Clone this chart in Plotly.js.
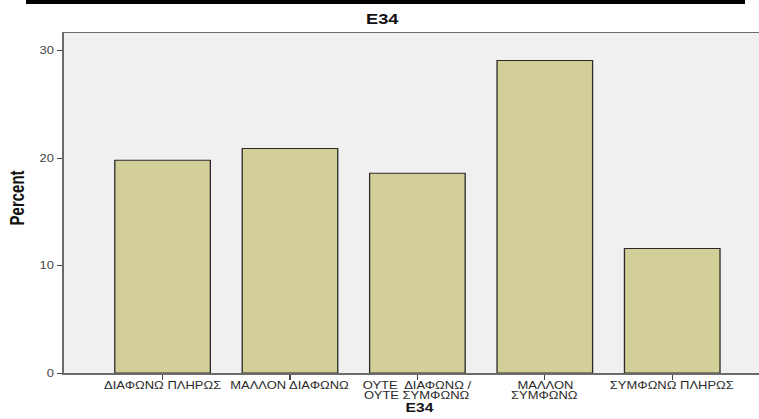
<!DOCTYPE html>
<html>
<head>
<meta charset="utf-8">
<script src="https://cdn.plot.ly/plotly-3.0.1.min.js"></script>
<style>
  html, body { margin: 0; padding: 0; background: #ffffff; }
  body { width: 759px; height: 419px; overflow: hidden; position: relative; }
  #wrap { position: absolute; left: 0; top: 0; transform: scaleX(1.3); transform-origin: 0 0; }
  #topbar { position: absolute; left: 26px; top: 0; width: 719px; height: 4px; background: #000; z-index: 5; }
</style>
</head>
<body>
<div id="topbar"></div>
<div id="wrap"><div id="chart"></div></div>
<script>
// ---- data ----
var categories = ['ΔΙΑΦΩΝΩ ΠΛΗΡΩΣ', 'ΜΑΛΛΟΝ ΔΙΑΦΩΝΩ', 'ΟΥΤΕ ΔΙΑΦΩΝΩ / ΟΥΤΕ ΣΥΜΦΩΝΩ', 'ΜΑΛΛΟΝ ΣΥΜΦΩΝΩ', 'ΣΥΜΦΩΝΩ ΠΛΗΡΩΣ'];
var tickLines = [['ΔΙΑΦΩΝΩ ΠΛΗΡΩΣ'], ['ΜΑΛΛΟΝ ΔΙΑΦΩΝΩ'], ['ΟΥΤΕ  ΔΙΑΦΩΝΩ /', 'ΟΥΤΕ ΣΥΜΦΩΝΩ'], ['ΜΑΛΛΟΝ', 'ΣΥΜΦΩΝΩ'], ['ΣΥΜΦΩΝΩ ΠΛΗΡΩΣ']];
var percents = [19.8, 20.9, 18.6, 29.1, 11.6];
var yTicks = [0, 10, 20, 30];
var chartTitle = 'E34';
var xTitle = 'E34';
var yTitle = 'Percent';

var FONT = 'Liberation Sans, Arial, sans-serif';

var annotations = [];
categories.forEach(function (c, i) {
  tickLines[i].forEach(function (line, j) {
    annotations.push({
      x: c, xref: 'x', y: 0, yref: 'paper',
      text: line, showarrow: false,
      xanchor: 'center', yanchor: 'middle',
      borderpad: 0,
      yshift: -12.5 - j * 10,
      font: {family: FONT, size: 10, color: '#2b2b2b'}
    });
  });
});
annotations.push({
  x: 0.5, xref: 'paper', y: 0, yref: 'paper', yshift: -35,
  text: '<b>' + xTitle + '</b>', showarrow: false,
  xanchor: 'center', yanchor: 'middle', borderpad: 0,
  font: {family: FONT, size: 12, color: '#111'}
});
annotations.push({
  x: -0.0648, xref: 'paper', y: 0.515, yref: 'paper',
  text: '<b>' + yTitle + '</b>', showarrow: false, textangle: -90,
  xanchor: 'center', yanchor: 'middle',
  font: {family: FONT, size: 15, color: '#111'}
});

var trace = {
  type: 'bar',
  x: categories,
  y: percents,
  marker: {color: '#d3cf98', line: {color: '#2a2a2a', width: 1}},
  hoverinfo: 'x+y'
};

var layout = {
  width: 600,
  height: 419,
  margin: {l: 48.5, r: 4, t: 33, b: 46},
  paper_bgcolor: '#ffffff',
  plot_bgcolor: '#f0f0f0',
  showlegend: false,
  bargap: 0.25,
  title: {
    text: '<b>' + chartTitle + '</b>',
    xref: 'container', x: 0.49, xanchor: 'center',
    yref: 'container', y: 0.955, yanchor: 'middle',
    font: {family: FONT, size: 14, color: '#111'}
  },
  xaxis: {
    type: 'category',
    range: [-0.776, 4.805],
    showticklabels: false,
    ticks: 'outside', ticklen: 5, tickwidth: 1, tickcolor: '#444',
    showline: true, linecolor: '#6b6b6b', linewidth: 1.5, mirror: true,
    showgrid: false, zeroline: false, fixedrange: true
  },
  yaxis: {
    range: [0, 31.65],
    tickvals: yTicks,
    ticktext: yTicks.map(String),
    ticks: 'outside', ticklen: 4, tickwidth: 1, tickcolor: '#444',
    tickfont: {family: FONT, size: 10, color: '#444'},
    showline: true, linecolor: '#6b6b6b', linewidth: 1.5, mirror: true,
    showgrid: false, zeroline: false, fixedrange: true
  },
  annotations: annotations
};

Plotly.newPlot('chart', [trace], layout, {displayModeBar: false, staticPlot: true});
</script>
</body>
</html>
